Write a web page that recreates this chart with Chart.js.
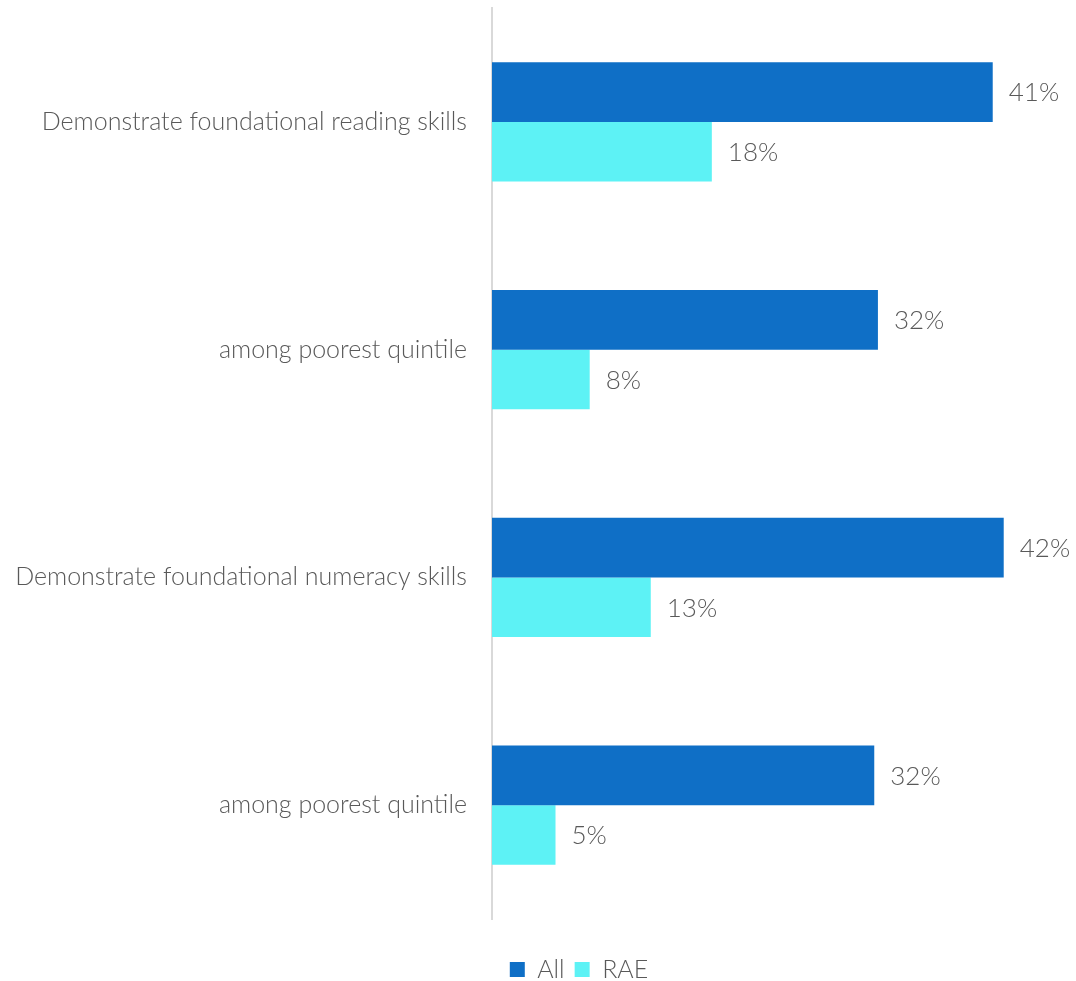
<!DOCTYPE html>
<html>
<head>
<meta charset="utf-8">
<script src="https://cdn.jsdelivr.net/npm/chart.js@4"></script>
<style>
html,body{margin:0;padding:0;background:#fff;}
canvas{display:block;}
</style>
</head>
<body>
<canvas id="c" width="1076" height="981"></canvas>
<script>
const categories = [
  "Demonstrate foundational reading skills",
  "among poorest quintile",
  "Demonstrate foundational numeracy skills",
  "among poorest quintile"
];
const seriesNames = ["All", "RAE"];
const allValues = [41, 31.6, 41.9, 31.3];
const raeValues = [18, 8, 13, 5.2];
const allLabels = ["41%", "32%", "42%", "32%"];
const raeLabels = ["18%", "8%", "13%", "5%"];

const FONT = "Lato";
const TEXT = "#595959";

const labelPlugin = {
  id: "valLabels",
  afterLayout(chart) {
    const lg = chart.legend;
    if (lg) { lg.top += 28; lg.bottom += 28; lg.left += 46; lg.right += 46; }
  },
  afterDatasetsDraw(chart) {
    const ctx = chart.ctx;
    const lists = [allLabels, raeLabels];
    ctx.save();
    ctx.font = "300 26px " + FONT;
    ctx.fillStyle = TEXT;
    ctx.textAlign = "left";
    ctx.textBaseline = "middle";
    chart.data.datasets.forEach((ds, di) => {
      const meta = chart.getDatasetMeta(di);
      meta.data.forEach((el, i) => {
        ctx.fillText(lists[di][i], el.x + 16, el.y + 1);
      });
    });
    ctx.restore();
  }
};

new Chart(document.getElementById("c"), {
  type: "bar",
  data: {
    labels: categories,
    datasets: [
      { label: seriesNames[0], data: allValues, backgroundColor: "#0F6FC6", borderWidth: 0 },
      { label: seriesNames[1], data: raeValues, backgroundColor: "#5DF2F5", borderWidth: 0 }
    ]
  },
  options: {
    indexAxis: "y",
    responsive: false,
    animation: false,
    datasets: { bar: { categoryPercentage: 0.523, barPercentage: 1.0 } },
    layout: { padding: { top: 8, right: 10, left: 0, bottom: 17 } },
    scales: {
      x: { display: false, min: 0, max: 47 },
      y: {
        afterFit(scale) { scale.width = 492; scale.paddingTop = 0; scale.paddingBottom = 0; },
        grid: { display: false, drawTicks: false },
        border: { display: true, color: "#d9d9d9", width: 2 },
        ticks: { color: TEXT, font: { family: FONT, size: 25, weight: 300 }, padding: 25 }
      }
    },
    plugins: {
      tooltip: { enabled: false },
      legend: {
        position: "bottom",
        labels: {
          color: TEXT,
          font: { family: FONT, size: 25, weight: 300 },
          boxWidth: 15, boxHeight: 15, padding: 10
        }
      }
    }
  },
  plugins: [labelPlugin]
});
</script>
</body>
</html>
